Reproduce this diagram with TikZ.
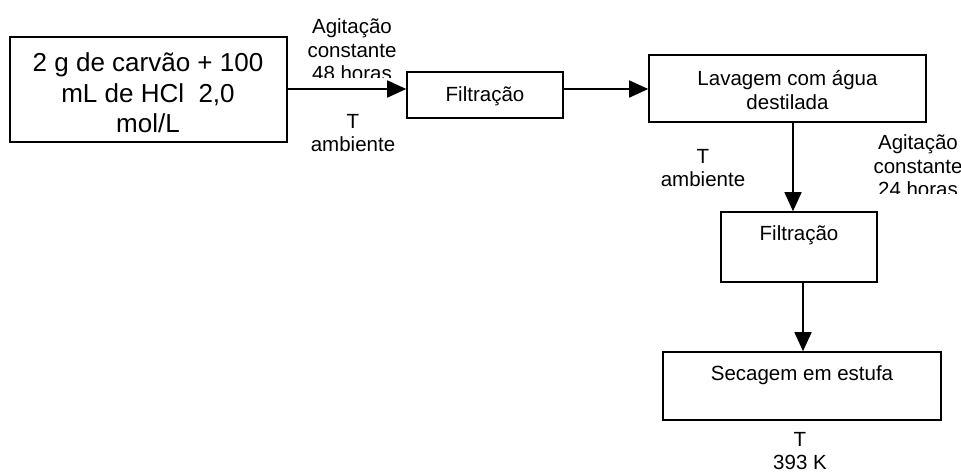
\documentclass[tikz,border=0pt]{standalone}
\usepackage{fontspec}
\setmainfont{Liberation Sans}
\usetikzlibrary{arrows.meta}
\tikzset{
  x=1pt, y=-1pt,
  box/.style={draw, line width=1.6pt, rectangle, inner sep=0pt},
  small/.style={inner sep=0pt, align=center, font=\fontsize{20.5}{23.5}\selectfont},
  big/.style={inner sep=0pt, align=center, font=\fontsize{26}{30.5}\selectfont},
  arr/.style={line width=1.6pt, -{Triangle[length=19pt,width=17pt]}},
}
\begin{document}
\begin{tikzpicture}
\useasboundingbox (0,0) rectangle (961,475);
% boxes
\node[box, minimum width=277pt, minimum height=105pt] (b1) at (148.5,89.5) {};
\node[big] (t1) at (148,93) {2 g de carvão + 100\\mL de HCl\ \ 2,0\\mol/L};
\node[box, minimum width=156pt, minimum height=46pt] (b2) at (485,95) {};
\node[small] (t2) at (485,96) {Filtração};
\node[box, minimum width=277pt, minimum height=67pt] (b3) at (787.5,88.5) {};
\node[small] (t3) at (787.5,90) {Lavagem com água\\destilada};
\node[box, minimum width=156pt, minimum height=70pt] (b4) at (799,247) {};
\node[small] (t4) at (799,235) {Filtração};
\node[box, minimum width=278pt, minimum height=68pt] (b5) at (802,386) {};
\node[small] (t5) at (802,375) {Secagem em estufa};
% connectors
\coordinate (y1) at (0,89);
\draw[arr] (b1.east |- y1) -- (b2.west |- y1);
\draw[arr] (b2.east |- y1) -- (b3.west |- y1);
\draw[arr] ([xshift=5.5pt]b3.south) -- ([xshift=5.5pt]b3.south |- b4.north);
\draw[arr] ([xshift=4pt]b4.south) -- ([xshift=4pt]b4.south |- b5.north);
% labels
\begin{scope}
\clip (290,0) rectangle (420,77);
\node[small] (l1) at (352,50) {Agitação\\constante\\48 horas};
\end{scope}
\node[small] (l2) at (353,133) {T\\ambiente};
\node[small] (l3) at (703,168) {T\\ambiente};
\begin{scope}
\clip (860,120) rectangle (961,193);
\node[small] (l4) at (918,166) {Agitação\\constante\\24 horas};
\end{scope}
\node[small] (l5) at (800,451) {T\\393 K};
\end{tikzpicture}
\end{document}
